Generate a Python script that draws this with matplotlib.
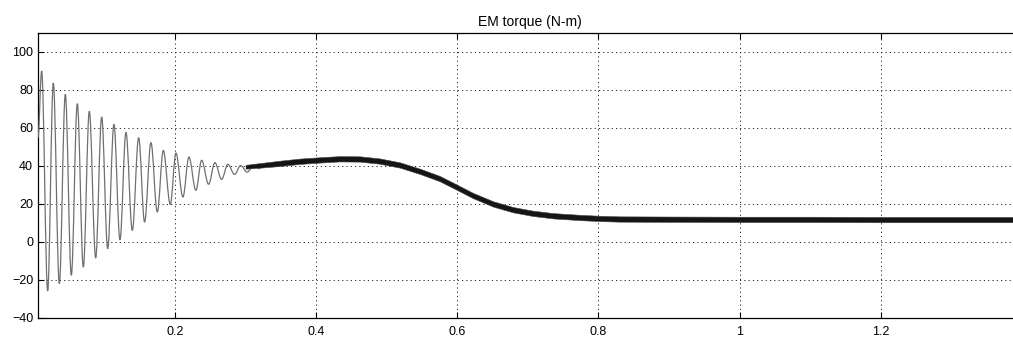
import matplotlib
matplotlib.use("Agg")
import matplotlib.pyplot as plt
from matplotlib.path import Path
from matplotlib.patches import PathPatch

plt.rcParams['font.family'] = ['Liberation Sans', 'DejaVu Sans']

# ---- data ----
title = "EM torque (N-m)"
start_t = 0.006
start_v = 55.0
peak_t = [0.0112, 0.0277, 0.0447, 0.0617, 0.0787, 0.0962, 0.1136, 0.1306, 0.1486,
          0.1660, 0.1835, 0.2014, 0.2198, 0.2378, 0.2566, 0.2750, 0.2930, 0.3120]
peak_v = [90.0, 83.7, 77.7, 72.8, 68.8, 65.8, 61.9, 57.7, 54.9,
          52.3, 48.2, 46.8, 44.7, 43.0, 41.8, 40.9, 40.2, 40.6]
trough_t = [0.0197, 0.0362, 0.0532, 0.0702, 0.0877, 0.1047, 0.1221, 0.1396, 0.1570,
            0.1750, 0.1934, 0.2113, 0.2297, 0.2477, 0.2661, 0.2845, 0.3024, 0.3204]
trough_v = [-25.8, -21.9, -17.5, -13.2, -8.4, -3.5, 1.2, 6.1, 10.5,
            15.8, 19.8, 23.7, 27.2, 30.4, 33.0, 35.6, 36.8, 38.6]

band_t = [0.300, 0.320, 0.349, 0.377, 0.405, 0.433, 0.462, 0.490, 0.519,
          0.547, 0.575, 0.599, 0.622, 0.651, 0.679, 0.707, 0.736, 0.774,
          0.802, 0.830, 0.900, 1.000, 1.100, 1.200, 1.300, 1.400]
band_upper = [40.6, 41.5, 42.8, 43.9, 44.6, 45.2, 45.1, 44.0, 41.9,
              38.6, 34.8, 30.3, 25.9, 21.4, 18.4, 16.5, 15.2, 14.3,
              13.8, 13.5, 13.4, 13.3, 13.3, 13.2, 13.2, 13.2]
band_lower = [38.6, 39.1, 40.0, 41.1, 41.8, 42.4, 42.3, 41.2, 39.1,
              35.8, 32.0, 27.5, 23.1, 18.6, 15.6, 13.7, 12.4, 11.5,
              11.0, 10.7, 10.6, 10.5, 10.5, 10.4, 10.4, 10.4]

x_ticks = [0.2, 0.4, 0.6, 0.8, 1.0, 1.2]
x_ticklabels = ["0.2", "0.4", "0.6", "0.8", "1", "1.2"]
y_ticks = [-40, -20, 0, 20, 40, 60, 80, 100]
x_range = (0.006, 1.4)
y_range = (-40, 110)

# ---- figure ----
fig = plt.figure(figsize=(10.13, 3.38), dpi=100)
ax = fig.add_axes([38 / 1013, 20 / 338, 984 / 1013, 285 / 338])

# oscillating start: smooth curve through alternating extrema (Bezier segments)
pts_t = [start_t]
pts_v = [start_v]
for a, b, c, d in zip(peak_t, peak_v, trough_t, trough_v):
    pts_t += [a, c]
    pts_v += [b, d]
verts = [(pts_t[0], pts_v[0])]
codes = [Path.MOVETO]
k = 0.36
for i in range(1, len(pts_t)):
    t0, v0 = pts_t[i - 1], pts_v[i - 1]
    t1, v1 = pts_t[i], pts_v[i]
    dt = t1 - t0
    verts += [(t0 + k * dt, v0), (t1 - k * dt, v1), (t1, v1)]
    codes += [Path.CURVE4] * 3
ax.add_patch(PathPatch(Path(verts, codes), facecolor='none',
                       edgecolor='#707070', lw=0.9, zorder=3))

# dense ripple band
ax.fill_between(band_t, band_lower, band_upper, facecolor='#151515',
                edgecolor='#444444', lw=0.4, zorder=3)

ax.set_xlim(*x_range)
ax.set_ylim(*y_range)
ax.set_xticks(x_ticks)
ax.set_xticklabels(x_ticklabels)
ax.set_yticks(y_ticks)
ax.tick_params(direction='in', length=4, width=0.8, labelsize=9, colors='black',
               top=True, right=False)
ax.tick_params(axis='x', pad=6)
ax.tick_params(axis='y', pad=3.5)
ax.grid(True, color='#222222', lw=0.7, ls=(0, (1.2, 3.2)))
for s in ax.spines.values():
    s.set_linewidth(0.9)
    s.set_color('black')
ax.set_title(title, fontsize=10, pad=5)

fig.savefig("out.png", dpi=100)
